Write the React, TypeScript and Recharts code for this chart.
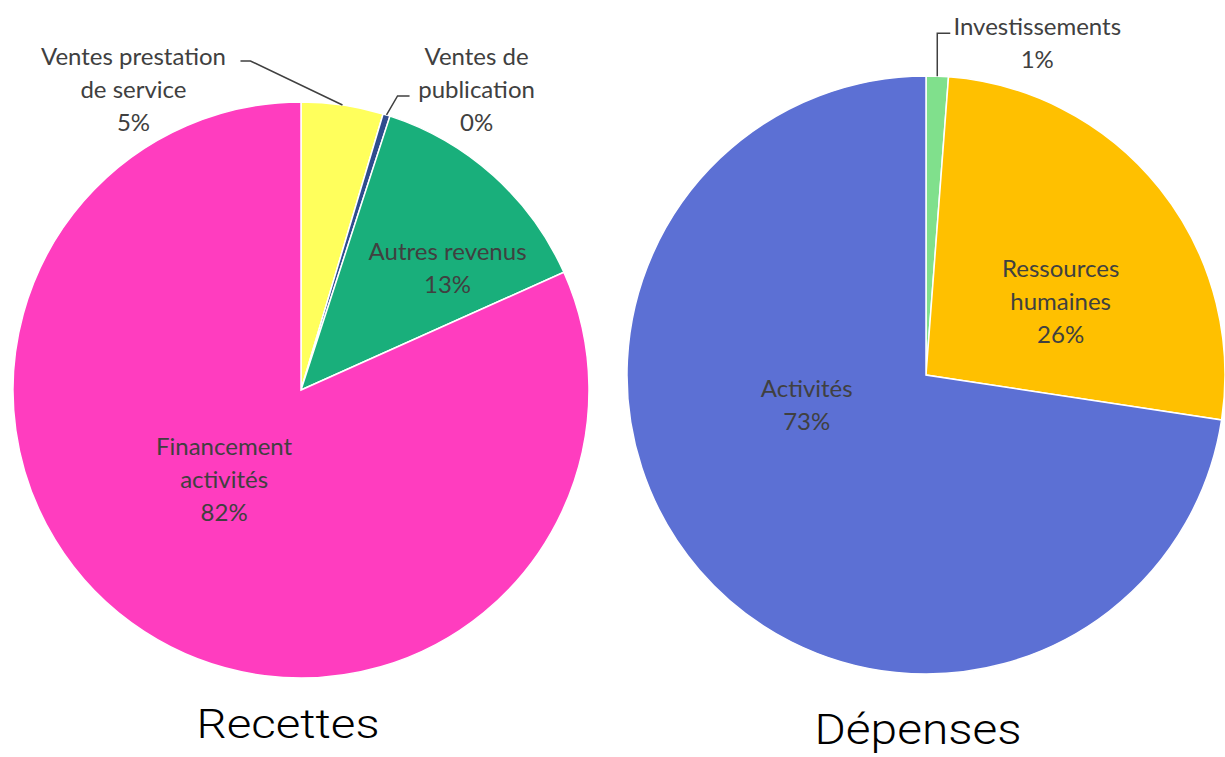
import { PieChart, Pie, Cell } from "recharts";

// Recettes (left pie), clockwise from 12 o'clock
const recettesCategories = ["Ventes prestation\nde service", "Ventes de\npublication", "Autres revenus", "Financement\nactivités"];
const recettesValues = [4.6, 0.4, 13.3, 81.7];
const recettesColors = ["#FFFF5C", "#2F4C8E", "#19AF7B", "#FF3DBF"];

// Dépenses (right pie)
const depensesCategories = ["Investissements", "Ressources\nhumaines", "Activités"];
const depensesValues = [1.2, 26.2, 72.6];
const depensesColors = ["#80E08C", "#FFC000", "#5C70D4"];

const titles = ["Recettes", "Dépenses"];

const recettesData = recettesCategories.map((name, i) => ({ name, value: recettesValues[i] }));
const depensesData = depensesCategories.map((name, i) => ({ name, value: depensesValues[i] }));

const W = 1225;
const H = 757;
const LINE = 33;
const FONT = "Lato, Carlito, Calibri, 'Open Sans', sans-serif";
const RAD = Math.PI / 180;

// where each data label goes: inside (radius fraction + clockwise shift from mid angle)
// or as a callout with a leader line, offsets relative to the slice's edge point
type Inside = { kind: "inside"; r: number; shift: number };
type Callout = { kind: "callout"; elbow: [number, number]; end: [number, number]; text: [number, number] };
const placement: Record<string, Inside | Callout> = {
  "Ventes prestation\nde service": { kind: "callout", elbow: [-92, -44], end: [-102, -44], text: [-209, -50] },
  "Ventes de\npublication": { kind: "callout", elbow: [11, -19], end: [23, -19], text: [90, -60] },
  "Autres revenus": { kind: "inside", r: 0.665, shift: 8 },
  "Financement\nactivités": { kind: "inside", r: 0.405, shift: 8.3 },
  Investissements: { kind: "callout", elbow: [0, -43], end: [13, -43], text: [100, -51] },
  "Ressources\nhumaines": { kind: "inside", r: 0.516, shift: 9.3 },
  Activités: { kind: "inside", r: 0.41, shift: 27.3 },
};

function Lines({ x, top, lines }: { x: number; top: number; lines: string[] }) {
  return (
    <text
      textAnchor="middle"
      dominantBaseline="central"
      fill="#404040"
      fontFamily={FONT}
      fontSize={24}
    >
      {lines.map((l, i) => (
        <tspan key={i} x={x} y={top + i * LINE}>
          {l}
        </tspan>
      ))}
    </text>
  );
}

function renderLabel(props: any) {
  const { cx, cy, midAngle, outerRadius, percent, name } = props;
  const p = placement[name];
  const lines = [...String(name).split("\n"), `${Math.round(percent * 100)}%`];
  if (!p) return null;
  if (p.kind === "inside") {
    const a = (midAngle - p.shift) * RAD;
    const x = cx + outerRadius * p.r * Math.cos(a);
    const y = cy - outerRadius * p.r * Math.sin(a);
    return <Lines x={x} top={y - ((lines.length - 1) * LINE) / 2} lines={lines} />;
  }
  const ex = cx + outerRadius * Math.cos(-midAngle * RAD);
  const ey = cy + outerRadius * Math.sin(-midAngle * RAD);
  const pts = [
    [ex, ey],
    [ex + p.elbow[0], ey + p.elbow[1]],
    [ex + p.end[0], ey + p.end[1]],
  ];
  return (
    <g>
      <polyline points={pts.map((q) => q.join(",")).join(" ")} fill="none" stroke="#404040" strokeWidth={1.5} />
      <Lines x={ex + p.text[0]} top={ey + p.text[1]} lines={lines} />
    </g>
  );
}

export default function App() {
  return (
    <div style={{ position: "absolute", left: 0, top: 0, width: W, height: H, background: "#fff" }}>
      <PieChart width={W} height={H} margin={{ top: 0, right: 0, bottom: 0, left: 0 }}>
        <Pie
          data={recettesData}
          dataKey="value"
          nameKey="name"
          cx={301}
          cy={390}
          outerRadius={288}
          startAngle={90}
          endAngle={-270}
          stroke="#fff"
          strokeWidth={1.5}
          label={renderLabel}
          labelLine={false}
          isAnimationActive={false}
        >
          {recettesData.map((d, i) => (
            <Cell key={d.name} fill={recettesColors[i]} />
          ))}
        </Pie>
        <Pie
          data={depensesData}
          dataKey="value"
          nameKey="name"
          cx={926}
          cy={375}
          outerRadius={299}
          startAngle={90}
          endAngle={-270}
          stroke="#fff"
          strokeWidth={1.5}
          label={renderLabel}
          labelLine={false}
          isAnimationActive={false}
        >
          {depensesData.map((d, i) => (
            <Cell key={d.name} fill={depensesColors[i]} />
          ))}
        </Pie>
      </PieChart>
      <svg width={W} height={H} style={{ position: "absolute", left: 0, top: 0, pointerEvents: "none" }}>
        <text x={288} y={738} textAnchor="middle" fontFamily="Roboto, sans-serif" fontWeight={300} fontSize={40} fill="#000" textLength={183} lengthAdjust="spacingAndGlyphs">
          {titles[0]}
        </text>
        <text x={918} y={744} textAnchor="middle" fontFamily="Roboto, sans-serif" fontWeight={300} fontSize={43} fill="#000" textLength={207} lengthAdjust="spacingAndGlyphs">
          {titles[1]}
        </text>
      </svg>
    </div>
  );
}
